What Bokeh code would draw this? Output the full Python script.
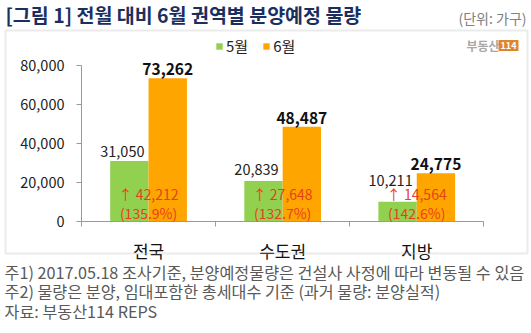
from bokeh.plotting import figure
from bokeh.models import (ColumnDataSource, LabelSet, Label, BoxAnnotation, Legend, LegendItem,
                          FixedTicker, NumeralTickFormatter, Range1d)
from bokeh.core.properties import value
from bokeh.embed import file_html
from bokeh.resources import INLINE

# ---- data ----
categories = ["전국", "수도권", "지방"]
may = [31050, 20839, 10211]
jun = [73262, 48487, 24775]
diff = [42212, 27648, 14564]
pct = [135.9, 132.7, 142.6]
y_ticks = [0, 20000, 40000, 60000, 80000]
series_names = ["5월", "6월"]
title_text = "[그림 1] 전월 대비 6월 권역별 분양예정 물량"
unit_text = "(단위: 가구)"
notes = [
    "주1) 2017.05.18 조사기준, 분양예정물량은 건설사 사정에 따라 변동될 수 있음",
    "주2) 물량은 분양, 임대포함한 총세대수 기준 (과거 물량: 분양실적)",
    "자료: 부동산114 REPS",
]

FONT = "Noto Sans CJK KR"
GREEN = "#92D050"
ORANGE = "#FFA500"
RED = "#E8401C"

W, H = 531, 333
# plot-area geometry in canvas pixels
X0, X3 = 81.0, 483.3      # x of category axis start / end
Y0, Y80 = 221.3, 64.5     # y pixel of value 0 / 80000
ncat = len(categories)
pxu = (X3 - X0) / ncat            # px per category unit
pyv = (Y0 - Y80) / y_ticks[-1]    # px per value unit

p = figure(width=W, height=H, output_backend="svg", toolbar_location=None,
           x_range=Range1d(-X0 / pxu, (W - X0) / pxu),
           y_range=Range1d(-(H - Y0) / pyv, Y0 / pyv),
           min_border=0, min_border_left=0, min_border_right=0,
           min_border_top=0, min_border_bottom=0)
p.outline_line_color = None
p.xgrid.visible = False
p.ygrid.visible = False
p.background_fill_color = "white"
p.border_fill_color = "white"

bw = 0.286
idx = list(range(ncat))
src = ColumnDataSource(dict(
    xm=[i + 0.5 - bw / 2 for i in idx],
    xj=[i + 0.5 + bw / 2 for i in idx],
    xc=[i + 0.5 for i in idx],
    may=may, jun=jun,
    may_t=[f"{v:,}" for v in may],
    jun_t=[f"{v:,}" for v in jun],
    diff_t=[f"↑ {v:,}" for v in diff],
    pct_t=[f"({v}%)" for v in pct],
    zero=[0] * ncat,
    lift=[4, 6, 16],
))

r1 = p.vbar(x="xm", top="may", width=bw, source=src, fill_color=GREEN, line_color=None)
r2 = p.vbar(x="xj", top="jun", width=bw, source=src, fill_color=ORANGE, line_color=None)

# axes, pinned inside the frame
ya = p.yaxis[0]
ya.fixed_location = 0
ya.bounds = (0, y_ticks[-1])
ya.ticker = FixedTicker(ticks=y_ticks)
ya.formatter = NumeralTickFormatter(format="0,0")
ya.axis_line_color = "#9A9A9A"
ya.major_tick_line_color = "#9A9A9A"
ya.major_tick_out = 5
ya.major_tick_in = 0
ya.minor_tick_line_color = None
ya.major_label_standoff = 12
ya.major_label_text_font = FONT
ya.major_label_text_font_size = "14.5px"
ya.major_label_text_color = "#222222"

xa = p.xaxis[0]
xa.fixed_location = 0
xa.bounds = (0, ncat)
xa.ticker = FixedTicker(ticks=[i + 0.5 for i in idx], minor_ticks=list(range(ncat + 1)))
xa.major_label_overrides = {i + 0.5: c for i, c in zip(idx, categories)}
xa.axis_line_color = "#9A9A9A"
xa.major_tick_line_color = None
xa.major_tick_out = 0
xa.minor_tick_line_color = "#9A9A9A"
xa.minor_tick_out = 5
xa.minor_tick_in = 0
xa.major_label_standoff = 11
xa.major_label_text_font = FONT
xa.major_label_text_font_size = "17px"
xa.major_label_text_color = "#111111"

# value labels
p.add_layout(LabelSet(x="xm", y="may", text="may_t", source=src, x_offset=-7, y_offset="lift",
                      text_align="center", text_baseline="bottom", text_font=value(FONT),
                      text_font_size="14.5px", text_color="#222222"))
p.add_layout(LabelSet(x="xj", y="jun", text="jun_t", source=src, y_offset=3,
                      text_align="center", text_baseline="bottom", text_font=value(FONT),
                      text_font_size="15.5px", text_font_style="bold", text_color="#111111"))
p.add_layout(LabelSet(x="xc", y="zero", text="diff_t", source=src, y_offset=28,
                      text_align="center", text_baseline="middle", text_font=value(FONT),
                      text_font_size="14px", text_color=RED))
p.add_layout(LabelSet(x="xc", y="zero", text="pct_t", source=src, y_offset=9,
                      text_align="center", text_baseline="middle", text_font=value(FONT),
                      text_font_size="14px", text_color=RED))

def sx(x):
    return x

def sy(y):
    return H - y

# legend
legend = Legend(items=[LegendItem(label=series_names[0], renderers=[r1]),
                       LegendItem(label=series_names[1], renderers=[r2])],
                orientation="horizontal", location=(sx(215), sy(56)),
                glyph_width=8, glyph_height=8, label_text_font=FONT, label_text_font_size="15px",
                label_text_color="#222222", label_standoff=3, spacing=14, padding=0, margin=0,
                border_line_color=None, background_fill_alpha=0)
p.add_layout(legend)

# chart border box
p.add_layout(BoxAnnotation(left=sx(5), right=sx(527), bottom=sy(253), top=sy(30),
                           left_units="screen", right_units="screen",
                           bottom_units="screen", top_units="screen",
                           fill_alpha=0, line_color="#BDBDBD", line_width=2))

# title and unit
p.add_layout(Label(x=sx(5), y=sy(14), x_units="screen", y_units="screen", text=title_text,
                   text_font=FONT, text_font_size="19.5px", text_font_style="bold",
                   text_color="#1B2F5E", text_baseline="middle"))
p.add_layout(Label(x=sx(526), y=sy(17), x_units="screen", y_units="screen", text=unit_text,
                   text_font=FONT, text_font_size="14px", text_color="#808080",
                   text_align="right", text_baseline="middle"))

# logo
p.add_layout(Label(x=sx(499), y=sy(45), x_units="screen", y_units="screen", text="부동산",
                   text_font=FONT, text_font_size="12px", text_font_style="bold",
                   text_color="#A8A8A8", text_align="right", text_baseline="middle"))
p.add_layout(Label(x=sx(508), y=sy(45), x_units="screen", y_units="screen", text="114",
                   text_font=FONT, text_font_size="9px", text_font_style="bold",
                   text_color="white", text_align="center", text_baseline="middle",
                   background_fill_color="#E0852A", padding=2))

# footnotes
for k, t in enumerate(notes):
    p.add_layout(Label(x=sx(4), y=sy(271 + 19.5 * k), x_units="screen", y_units="screen", text=t,
                       text_font=FONT, text_font_size="16.2px", text_color="#595959",
                       text_baseline="middle"))

open("out.html", "w").write(file_html(p, INLINE))
